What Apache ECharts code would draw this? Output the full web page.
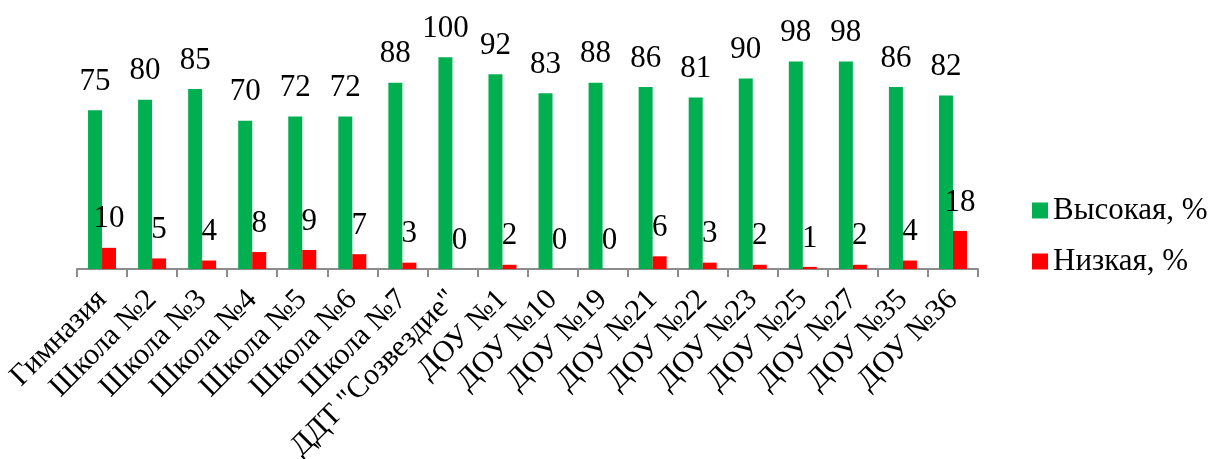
<!DOCTYPE html>
<html><head><meta charset="utf-8">
<script src="https://cdn.jsdelivr.net/npm/echarts@6/dist/echarts.min.js"></script>
<style>html,body{margin:0;padding:0;background:#fff}#c{width:1214px;height:459px}</style>
</head><body><div id="c"></div>
<script>
const categories = ['Гимназия','Школа №2','Школа №3','Школа №4','Школа №5','Школа №6','Школа №7','ДДТ "Созвездие"','ДОУ №1','ДОУ №10','ДОУ №19','ДОУ №21','ДОУ №22','ДОУ №23','ДОУ №25','ДОУ №27','ДОУ №35','ДОУ №36'];
const high = [75,80,85,70,72,72,88,100,92,83,88,86,81,90,98,98,86,82];
const low = [10,5,4,8,9,7,3,0,2,0,0,6,3,2,1,2,4,18];
const seriesNames = ['Высокая, %','Низкая, %'];
const font = '"Liberation Serif","Times New Roman",serif';
const chart = echarts.init(document.getElementById('c'), null, {renderer:'canvas'});
chart.setOption({
  animation:false,
  textStyle:{fontFamily:font},
  grid:{left:77,right:236,top:15,bottom:190,containLabel:false,outerBoundsMode:'none'},
  legend:{
    orient:'vertical', left:1027, top:190, itemWidth:16, itemHeight:16, itemGap:20, itemSpacing:8,
    icon:'rect', textStyle:{fontFamily:font,fontSize:31,color:'#000'},
    data:seriesNames
  },
  xAxis:{
    type:'category', data:categories,
    axisLine:{lineStyle:{color:'#8c8c8c',width:2}},
    axisTick:{show:true,interval:0,length:8,lineStyle:{color:'#8c8c8c',width:2}},
    axisLabel:{interval:0,rotate:45,margin:26,fontFamily:font,fontSize:30,color:'#000'}
  },
  yAxis:{type:'value',min:0,max:120,show:false,splitLine:{show:false}},
  series:[
    {name:seriesNames[0],type:'bar',data:high,barWidth:14,barGap:'0%',
     itemStyle:{color:'#00B050'},
     label:{show:true,position:'top',distance:13,fontFamily:font,fontSize:31,color:'#000'}},
    {name:seriesNames[1],type:'bar',data:low,barWidth:14,barGap:'0%',
     itemStyle:{color:'#FF0000'},
     label:{show:true,position:'top',distance:13,fontFamily:font,fontSize:31,color:'#000'}}
  ]
});
</script></body></html>
